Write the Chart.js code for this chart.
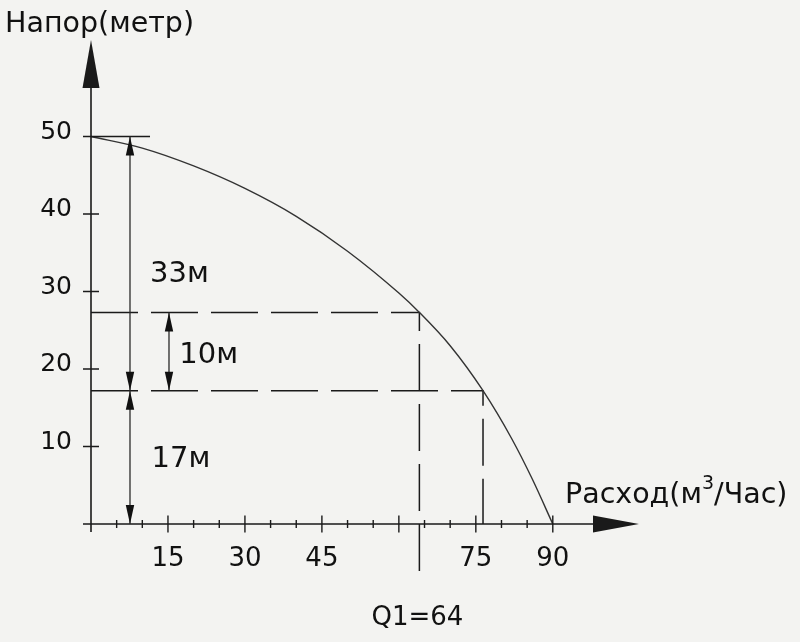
<!DOCTYPE html>
<html>
<head>
<meta charset="utf-8">
<script src="https://cdn.jsdelivr.net/npm/chart.js@4.4.1/dist/chart.umd.min.js"></script>
<style>
  html, body { margin: 0; padding: 0; background: #f3f3f1; }
  #wrap { width: 800px; height: 642px; }
</style>
</head>
<body>
<div id="wrap"><canvas id="chart" width="800" height="642"></canvas></div>
<script>
// pump curve
const flowValues = [0, 10, 20, 30, 40, 50, 60, 64, 70, 76.4, 82, 86, 90];
const headValues = [50, 48.5, 46.2, 43.3, 39.7, 35.2, 29.8, 27.3, 23.0, 17.2, 11.0, 5.8, 0];

const xTickLabels = [15, 30, 45, 75, 90];
const yTickLabels = [10, 20, 30, 40, 50];

const q1 = 64;        // Q1
const q2 = 76.4;      // flow at 17 m
const hMax = 50;
const h1 = 27.3;
const h2 = 17.2;
const dimX1 = 7.6;    // x of the 33m / 17m dimension line
const dimX2 = 15.2;   // x of the 10m dimension line
const dimLabels = ['33м', '10м', '17м'];

const xMax = 106.8;
const yMax = 62.45;

const INK = '#1a1a1a';
const FONT = '"DejaVu Sans", sans-serif';

function arrowHead(ctx, x, y, dir, len, half) {
  // dir: 'up','down','right'
  ctx.beginPath();
  ctx.moveTo(x, y);
  if (dir === 'up') { ctx.lineTo(x - half, y + len); ctx.lineTo(x + half, y + len); }
  if (dir === 'down') { ctx.lineTo(x - half, y - len); ctx.lineTo(x + half, y - len); }
  if (dir === 'right') { ctx.lineTo(x - len, y - half); ctx.lineTo(x - len, y + half); }
  ctx.closePath();
  ctx.fill();
}

const drawingPlugin = {
  id: 'drawing',
  beforeDraw(chart) {
    const ctx = chart.ctx;
    ctx.save();
    ctx.fillStyle = '#f3f3f1';
    ctx.fillRect(0, 0, chart.width, chart.height);
    ctx.restore();
  },
  afterDraw(chart) {
    const ctx = chart.ctx;
    const xs = chart.scales.x, ys = chart.scales.y;
    const px = v => xs.getPixelForValue(v);
    const py = v => ys.getPixelForValue(v);
    const x0 = px(0), y0 = py(0);
    ctx.save();
    ctx.strokeStyle = INK;
    ctx.fillStyle = INK;

    // axes
    ctx.lineWidth = 1.6;
    ctx.beginPath();
    ctx.moveTo(x0, y0 + 8); ctx.lineTo(x0, py(yMax) + 48);
    ctx.moveTo(x0 - 8, y0); ctx.lineTo(px(xMax) - 46, y0);
    ctx.stroke();
    arrowHead(ctx, x0, py(yMax), 'up', 48, 8.5);
    arrowHead(ctx, px(xMax), y0, 'right', 46, 8.5);

    // x ticks every 5, major every 15
    ctx.lineWidth = 1.4;
    ctx.beginPath();
    for (let v = 5; v <= 90; v += 5) {
      const h = v % 15 === 0 ? 8.5 : 4;
      ctx.moveTo(px(v), y0 - h); ctx.lineTo(px(v), y0 + h);
    }
    // y ticks
    for (let i = 0; i < yTickLabels.length - 1; i++) {
      ctx.moveTo(x0 - 8, py(yTickLabels[i])); ctx.lineTo(x0 + 8, py(yTickLabels[i]));
    }
    // 50 line
    ctx.moveTo(x0 - 8, py(hMax)); ctx.lineTo(px(11.5), py(hMax));
    ctx.stroke();

    // dimension lines
    ctx.lineWidth = 1.3;
    ctx.strokeStyle = '#2a2a2a';
    ctx.fillStyle = '#111';
    const dims = [[dimX1, hMax, h2], [dimX2, h1, h2], [dimX1, h2, 0]];
    dims.forEach(([dx, top, bot]) => {
      ctx.beginPath();
      ctx.moveTo(px(dx), py(top)); ctx.lineTo(px(dx), py(bot));
      ctx.stroke();
      arrowHead(ctx, px(dx), py(top), 'up', 19, 4.2);
      arrowHead(ctx, px(dx), py(bot), 'down', 19, 4.2);
    });

    // labels
    ctx.fillStyle = '#111';
    ctx.textBaseline = 'alphabetic';
    ctx.textAlign = 'left';
    ctx.font = '29px ' + FONT;
    ctx.fillText(dimLabels[0], px(11.5), py(31.2));
    ctx.fillText(dimLabels[1], px(17.2), py(20.8));
    ctx.fillText(dimLabels[2], px(11.8), py(7.35));

    ctx.font = '26px ' + FONT;
    ctx.textAlign = 'center';
    ctx.fillText('Q1=' + q1, px(q1) - 2, 625);

    ctx.textAlign = 'left';
    ctx.font = '28.5px ' + FONT;
    ctx.fillText('Напор(метр)', 5, 32);

    // Расход(м³/Час)
    let tx = 565;
    const ty = 503;
    ctx.font = '28.5px ' + FONT;
    ctx.fillText('Расход(м', tx, ty);
    tx += ctx.measureText('Расход(м').width;
    ctx.font = '19px ' + FONT;
    ctx.fillText('3', tx, ty - 14);
    tx += ctx.measureText('3').width;
    ctx.font = '28.5px ' + FONT;
    ctx.fillText('/Час)', tx, ty);
    ctx.restore();
  }
};

const curve = flowValues.map((q, i) => ({ x: q, y: headValues[i] }));

new Chart(document.getElementById('chart'), {
  type: 'scatter',
  data: {
    datasets: [
      {
        data: curve,
        showLine: true,
        borderColor: '#333',
        borderWidth: 1.4,
        pointRadius: 0,
        cubicInterpolationMode: 'monotone',
        clip: false
      },
      {
        data: [{ x: 0, y: h1 }, { x: q1, y: h1 }, { x: q1, y: -7.6 }],
        showLine: true,
        borderColor: INK,
        borderWidth: 1.5,
        borderDash: [47, 13],
        pointRadius: 0,
        tension: 0,
        clip: false
      },
      {
        data: [{ x: 0, y: h2 }, { x: q2, y: h2 }, { x: q2, y: 0 }],
        showLine: true,
        borderColor: INK,
        borderWidth: 1.5,
        borderDash: [47, 13],
        pointRadius: 0,
        tension: 0,
        clip: false
      }
    ]
  },
  options: {
    responsive: false,
    animation: false,
    events: [],
    layout: { padding: { left: 0, top: 40, right: 161, bottom: 0 }, autoPadding: false },
    plugins: { legend: { display: false }, tooltip: { enabled: false } },
    scales: {
      x: {
        type: 'linear',
        min: 0,
        max: xMax,
        afterFit: s => { s.height = 118; },
        border: { display: false },
        grid: { display: false, drawTicks: false },
        ticks: {
          stepSize: 15,
          autoSkip: false,
          includeBounds: false,
          maxRotation: 0,
          padding: 20,
          color: '#111',
          font: { family: FONT, size: 26 },
          callback: v => xTickLabels.includes(v) ? String(v) : ''
        }
      },
      y: {
        type: 'linear',
        min: 0,
        max: yMax,
        afterFit: s => { s.width = 91; },
        border: { display: false },
        grid: { display: false, drawTicks: false },
        ticks: {
          stepSize: 10,
          autoSkip: false,
          includeBounds: false,
          padding: 19,
          labelOffset: -4,
          color: '#111',
          font: { family: FONT, size: 25 },
          callback: v => yTickLabels.includes(v) ? String(v) : ''
        }
      }
    }
  },
  plugins: [drawingPlugin]
});
</script>
</body>
</html>
